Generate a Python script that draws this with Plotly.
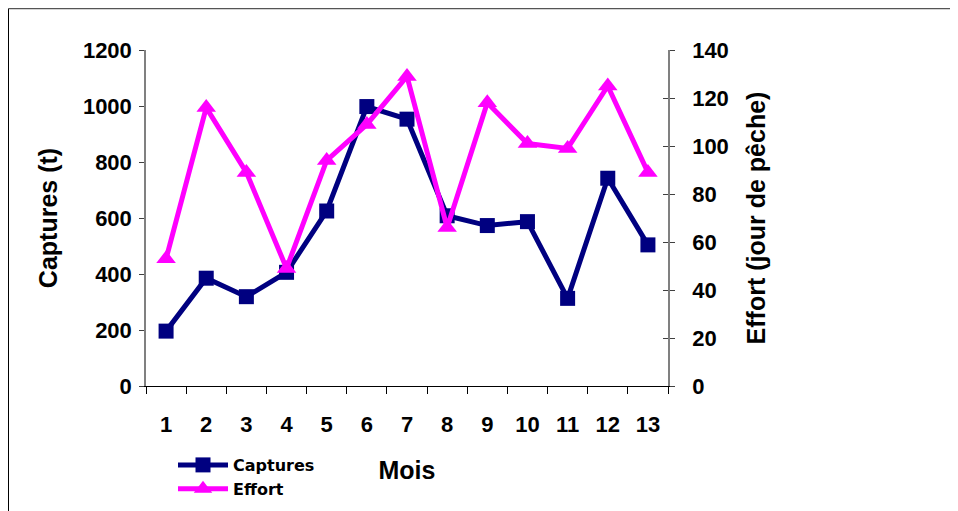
import plotly.graph_objects as go

mois = ["1", "2", "3", "4", "5", "6", "7", "8", "9", "10", "11", "12", "13"]
captures = [196, 385, 319, 406, 625, 998, 953, 608, 573, 587, 313, 742, 504]
effort = [53, 116, 89, 49, 94, 109, 129, 66, 118, 101, 99, 125, 89]

left_ticks = [0, 200, 400, 600, 800, 1000, 1200]
right_ticks = [0, 20, 40, 60, 80, 100, 120, 140]

FONT = "Liberation Sans, Arial, sans-serif"
OFF = 8  # page body margin
W, H = 950, 503
L, T = 146 - OFF, 50 - OFF
pw, ph = 522, 336
R, B = W - L - pw, H - T - ph

def px_x(p):
    return (p - OFF - L) / pw

def px_y(p):
    return (T + ph - (p - OFF)) / ph

fig = go.Figure()
fig.add_trace(go.Scatter(
    x=mois, y=captures, name="Captures", mode="lines+markers",
    line=dict(color="#000080", width=5),
    marker=dict(symbol="square", size=15, color="#000080"),
    yaxis="y",
))
fig.add_trace(go.Scatter(
    x=mois, y=effort, name="Effort", mode="lines+markers",
    line=dict(color="#FF00FF", width=5),
    marker=dict(symbol="triangle-up", size=17, color="#FF00FF"),
    yaxis="y2",
))
fig.add_trace(go.Scatter(x=mois, y=effort, yaxis="y3", mode="lines",
                         line=dict(width=0), opacity=0, showlegend=False,
                         hoverinfo="skip"))

tickfont = dict(family=FONT, size=22, color="black", weight="bold")
titlefont = dict(family=FONT, size=25, color="black", weight="bold")

fig.update_layout(
    width=W, height=H,
    margin=dict(l=L, r=R, t=T, b=B, autoexpand=False),
    paper_bgcolor="white", plot_bgcolor="white",
    showlegend=True,
    legend=dict(
        x=px_x(173), y=px_y(448), xanchor="left", yanchor="top",
        font=dict(family="DejaVu Sans, sans-serif", size=16, color="black",
                  weight="bold"),
        bgcolor="rgba(0,0,0,0)", itemwidth=50, tracegroupgap=0,
    ),
    xaxis=dict(
        type="category", range=[-0.5, 12.5],
        showline=True, linecolor="black", linewidth=1,
        ticks="outside", ticklen=7, tickcolor="black", tickson="boundaries",
        tickfont=tickfont, ticklabelstandoff=19,
        showgrid=False, zeroline=False,
        title=dict(text="Mois", font=titlefont, standoff=25),
    ),
    yaxis=dict(
        range=[0, 1200], tickvals=left_ticks,
        ticktext=[str(v) for v in left_ticks],
        showline=True, linecolor="#808080", linewidth=1.5,
        ticks="outside", ticklen=5, tickcolor="#404040",
        tickfont=tickfont, ticklabelstandoff=3,
        showgrid=False, zeroline=False,
        title=dict(text="Captures (t)", font=titlefont, standoff=18),
    ),
    yaxis2=dict(
        range=[0, 140], tickvals=right_ticks,
        ticktext=[str(v) for v in right_ticks],
        overlaying="y", side="right",
        showline=True, linecolor="#808080", linewidth=1.5,
        ticks="outside", ticklen=5, tickcolor="#404040",
        tickfont=tickfont, ticklabelstandoff=13,
        showgrid=False, zeroline=False,
        title=dict(text="Effort (jour de pêche)", font=titlefont, standoff=20),
    ),
    yaxis3=dict(
        range=[0, 140], tickvals=right_ticks, overlaying="y", side="right",
        showticklabels=False, showline=False,
        ticks="inside", ticklen=5, tickcolor="#404040",
        showgrid=False, zeroline=False,
    ),
    shapes=[
        dict(type="line", xref="paper", yref="paper",
             x0=px_x(OFF + 0.5), x1=px_x(OFF + 0.5), y0=px_y(900), y1=px_y(OFF + 0.5),
             line=dict(color="black", width=1), layer="below"),
        dict(type="line", xref="paper", yref="paper",
             x0=px_x(OFF + 0.5), x1=px_x(1400), y0=px_y(OFF + 0.5), y1=px_y(OFF + 0.5),
             line=dict(color="#555555", width=1.5), layer="below"),
    ],
)

fig.write_html("out.html")
